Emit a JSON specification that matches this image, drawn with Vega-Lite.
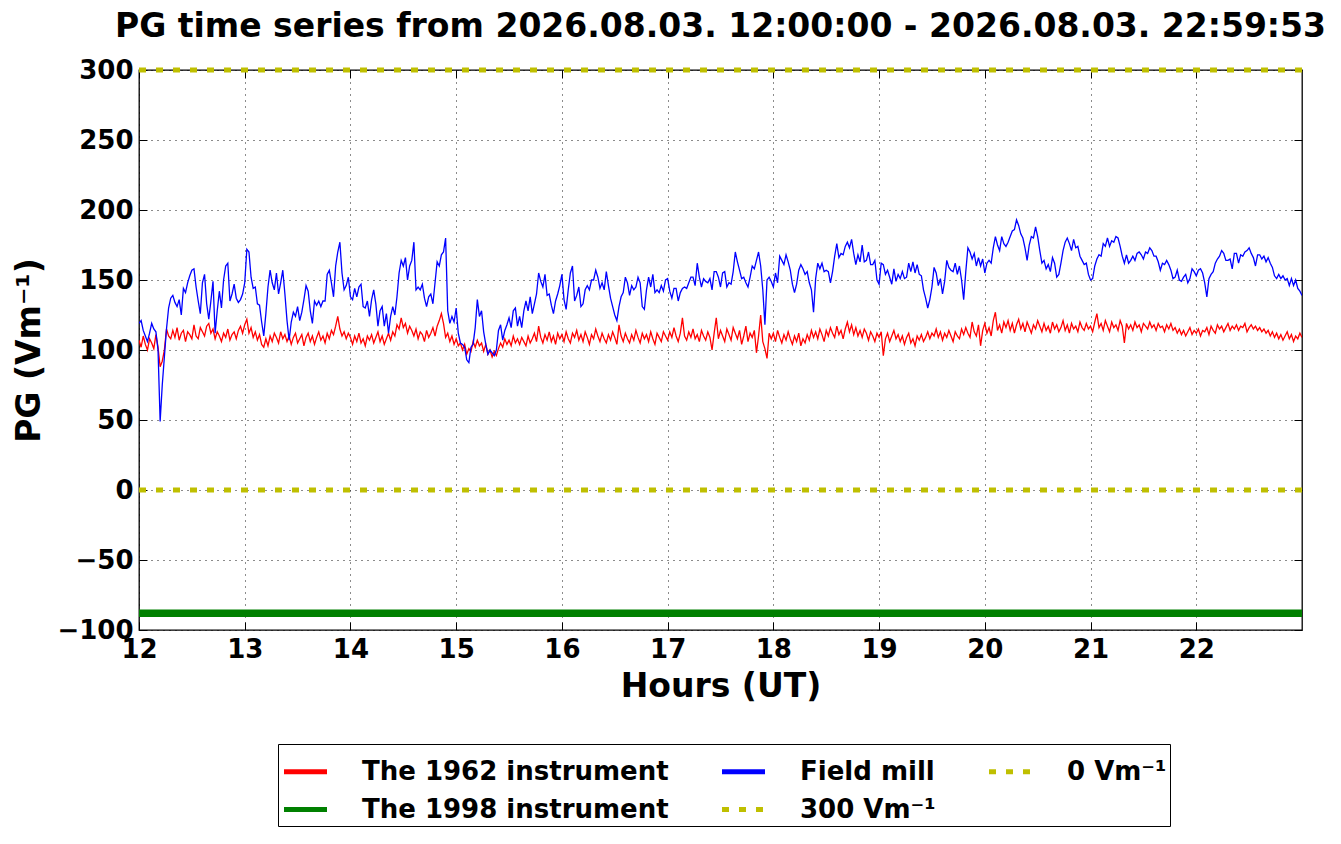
{
  "$schema": "https://vega.github.io/schema/vega-lite/v6.json",
  "width": 1163,
  "height": 560,
  "autosize": {"type": "none"},
  "padding": {"left": 139, "top": 70, "right": 39, "bottom": 214},
  "background": "white",
  "title": {"text": "PG time series from 2026.08.03. 12:00:00 - 2026.08.03. 22:59:53", "fontSize": 33, "font": "DejaVu Sans", "fontWeight": "bold", "color": "#000", "anchor": "middle", "offset": 13},
  "data": {"values": [
    {"h":12.00,"r":107,"b":119},{"h":12.02,"r":102,"b":121},{"h":12.04,"r":110,"b":114},{"h":12.06,"r":104,"b":110},{"h":12.08,"r":100,"b":106},{"h":12.10,"r":108,"b":112},{"h":12.12,"r":105,"b":119},{"h":12.14,"r":101,"b":115},{"h":12.16,"r":111,"b":113},{"h":12.18,"r":102,"b":100},
    {"h":12.20,"r":88,"b":49},{"h":12.22,"r":92,"b":75},{"h":12.24,"r":100,"b":95},{"h":12.26,"r":115,"b":115},{"h":12.28,"r":110,"b":130},{"h":12.30,"r":108,"b":137},{"h":12.32,"r":114,"b":139},{"h":12.34,"r":109,"b":134},{"h":12.36,"r":116,"b":131},{"h":12.38,"r":107,"b":136},
    {"h":12.40,"r":112,"b":125},{"h":12.42,"r":114,"b":144},{"h":12.44,"r":106,"b":141},{"h":12.46,"r":113,"b":148},{"h":12.48,"r":111,"b":153},{"h":12.50,"r":108,"b":157},{"h":12.52,"r":118,"b":158},{"h":12.54,"r":110,"b":145},{"h":12.56,"r":108,"b":135},{"h":12.58,"r":116,"b":126},
    {"h":12.60,"r":113,"b":148},{"h":12.62,"r":110,"b":154},{"h":12.64,"r":117,"b":133},{"h":12.66,"r":119,"b":122},{"h":12.68,"r":112,"b":135},{"h":12.70,"r":115,"b":149},{"h":12.72,"r":108,"b":112},{"h":12.74,"r":113,"b":128},{"h":12.76,"r":110,"b":142},{"h":12.78,"r":106,"b":130},
    {"h":12.80,"r":112,"b":150},{"h":12.82,"r":109,"b":160},{"h":12.84,"r":115,"b":162},{"h":12.86,"r":107,"b":135},{"h":12.88,"r":111,"b":140},{"h":12.90,"r":113,"b":147},{"h":12.92,"r":108,"b":137},{"h":12.94,"r":114,"b":134},{"h":12.96,"r":117,"b":136},{"h":12.98,"r":112,"b":140},
    {"h":13.00,"r":118,"b":148},{"h":13.02,"r":122,"b":172},{"h":13.04,"r":112,"b":170},{"h":13.06,"r":116,"b":152},{"h":13.08,"r":109,"b":144},{"h":13.10,"r":113,"b":145},{"h":13.12,"r":107,"b":133},{"h":13.14,"r":111,"b":132},{"h":13.16,"r":104,"b":120},{"h":13.18,"r":102,"b":110},
    {"h":13.20,"r":108,"b":126},{"h":13.22,"r":103,"b":145},{"h":13.24,"r":110,"b":157},{"h":13.26,"r":106,"b":148},{"h":13.28,"r":112,"b":143},{"h":13.30,"r":109,"b":155},{"h":13.32,"r":105,"b":140},{"h":13.34,"r":113,"b":148},{"h":13.36,"r":108,"b":157},{"h":13.38,"r":111,"b":140},
    {"h":13.40,"r":106,"b":121},{"h":13.42,"r":110,"b":107},{"h":13.44,"r":104,"b":120},{"h":13.46,"r":109,"b":127},{"h":13.48,"r":112,"b":124},{"h":13.50,"r":105,"b":131},{"h":13.52,"r":108,"b":121},{"h":13.54,"r":111,"b":127},{"h":13.56,"r":103,"b":136},{"h":13.58,"r":109,"b":146},
    {"h":13.60,"r":112,"b":142},{"h":13.62,"r":106,"b":128},{"h":13.64,"r":110,"b":119},{"h":13.66,"r":104,"b":135},{"h":13.68,"r":109,"b":132},{"h":13.70,"r":113,"b":135},{"h":13.72,"r":107,"b":131},{"h":13.74,"r":110,"b":135},{"h":13.76,"r":105,"b":135},{"h":13.78,"r":112,"b":154},
    {"h":13.80,"r":108,"b":157},{"h":13.82,"r":114,"b":148},{"h":13.84,"r":111,"b":138},{"h":13.86,"r":117,"b":160},{"h":13.88,"r":124,"b":170},{"h":13.90,"r":115,"b":177},{"h":13.92,"r":110,"b":155},{"h":13.94,"r":113,"b":143},{"h":13.96,"r":108,"b":146},{"h":13.98,"r":112,"b":152},
    {"h":14.00,"r":109,"b":138},{"h":14.02,"r":104,"b":136},{"h":14.04,"r":110,"b":144},{"h":14.06,"r":106,"b":138},{"h":14.08,"r":112,"b":145},{"h":14.10,"r":105,"b":147},{"h":14.12,"r":108,"b":131},{"h":14.14,"r":103,"b":130},{"h":14.16,"r":110,"b":135},{"h":14.18,"r":107,"b":124},
    {"h":14.20,"r":111,"b":136},{"h":14.22,"r":105,"b":143},{"h":14.24,"r":109,"b":133},{"h":14.26,"r":113,"b":117},{"h":14.28,"r":106,"b":128},{"h":14.30,"r":110,"b":131},{"h":14.32,"r":104,"b":117},{"h":14.34,"r":108,"b":126},{"h":14.36,"r":112,"b":112},{"h":14.38,"r":107,"b":124},
    {"h":14.40,"r":113,"b":131},{"h":14.42,"r":110,"b":125},{"h":14.44,"r":118,"b":138},{"h":14.46,"r":115,"b":155},{"h":14.48,"r":123,"b":164},{"h":14.50,"r":116,"b":160},{"h":14.52,"r":119,"b":166},{"h":14.54,"r":112,"b":150},{"h":14.56,"r":117,"b":160},{"h":14.58,"r":114,"b":164},
    {"h":14.60,"r":110,"b":177},{"h":14.62,"r":115,"b":143},{"h":14.64,"r":108,"b":145},{"h":14.66,"r":113,"b":143},{"h":14.68,"r":111,"b":147},{"h":14.70,"r":106,"b":137},{"h":14.72,"r":114,"b":131},{"h":14.74,"r":109,"b":138},{"h":14.76,"r":112,"b":140},{"h":14.78,"r":116,"b":133},
    {"h":14.80,"r":110,"b":148},{"h":14.82,"r":117,"b":163},{"h":14.84,"r":121,"b":160},{"h":14.86,"r":126,"b":168},{"h":14.88,"r":119,"b":170},{"h":14.90,"r":109,"b":180},{"h":14.92,"r":112,"b":128},{"h":14.94,"r":106,"b":119},{"h":14.96,"r":110,"b":124},{"h":14.98,"r":104,"b":120},
    {"h":15.00,"r":108,"b":130},{"h":15.02,"r":103,"b":112},{"h":15.04,"r":105,"b":105},{"h":15.06,"r":100,"b":104},{"h":15.08,"r":104,"b":102},{"h":15.10,"r":97,"b":93},{"h":15.12,"r":101,"b":91},{"h":15.14,"r":99,"b":102},{"h":15.16,"r":106,"b":104},{"h":15.18,"r":102,"b":116},
    {"h":15.20,"r":107,"b":136},{"h":15.22,"r":103,"b":124},{"h":15.24,"r":105,"b":128},{"h":15.26,"r":99,"b":113},{"h":15.28,"r":104,"b":104},{"h":15.30,"r":97,"b":97},{"h":15.32,"r":100,"b":100},{"h":15.34,"r":95,"b":98},{"h":15.36,"r":99,"b":96},{"h":15.38,"r":96,"b":100},
    {"h":15.40,"r":101,"b":114},{"h":15.42,"r":105,"b":118},{"h":15.44,"r":102,"b":107},{"h":15.46,"r":108,"b":114},{"h":15.48,"r":104,"b":118},{"h":15.50,"r":107,"b":123},{"h":15.52,"r":103,"b":116},{"h":15.54,"r":110,"b":128},{"h":15.56,"r":105,"b":130},{"h":15.58,"r":108,"b":117},
    {"h":15.60,"r":104,"b":124},{"h":15.62,"r":109,"b":116},{"h":15.64,"r":106,"b":128},{"h":15.66,"r":103,"b":135},{"h":15.68,"r":110,"b":128},{"h":15.70,"r":105,"b":138},{"h":15.72,"r":108,"b":126},{"h":15.74,"r":112,"b":133},{"h":15.76,"r":106,"b":140},{"h":15.78,"r":117,"b":155},
    {"h":15.80,"r":109,"b":149},{"h":15.82,"r":105,"b":145},{"h":15.84,"r":111,"b":154},{"h":15.86,"r":107,"b":139},{"h":15.88,"r":113,"b":140},{"h":15.90,"r":106,"b":132},{"h":15.92,"r":110,"b":126},{"h":15.94,"r":104,"b":135},{"h":15.96,"r":112,"b":140},{"h":15.98,"r":108,"b":146},
    {"h":16.00,"r":111,"b":154},{"h":16.02,"r":106,"b":136},{"h":16.04,"r":113,"b":129},{"h":16.06,"r":108,"b":143},{"h":16.08,"r":105,"b":155},{"h":16.10,"r":112,"b":160},{"h":16.12,"r":109,"b":135},{"h":16.14,"r":114,"b":139},{"h":16.16,"r":107,"b":145},{"h":16.18,"r":111,"b":131},
    {"h":16.20,"r":106,"b":133},{"h":16.22,"r":113,"b":143},{"h":16.24,"r":109,"b":146},{"h":16.26,"r":104,"b":143},{"h":16.28,"r":111,"b":150},{"h":16.30,"r":108,"b":150},{"h":16.32,"r":115,"b":157},{"h":16.34,"r":110,"b":152},{"h":16.36,"r":106,"b":144},{"h":16.38,"r":112,"b":148},
    {"h":16.40,"r":108,"b":143},{"h":16.42,"r":105,"b":156},{"h":16.44,"r":111,"b":146},{"h":16.46,"r":107,"b":137},{"h":16.48,"r":113,"b":131},{"h":16.50,"r":109,"b":125},{"h":16.52,"r":104,"b":121},{"h":16.54,"r":118,"b":131},{"h":16.56,"r":110,"b":138},{"h":16.58,"r":106,"b":141},
    {"h":16.60,"r":112,"b":152},{"h":16.62,"r":108,"b":148},{"h":16.64,"r":105,"b":139},{"h":16.66,"r":111,"b":146},{"h":16.68,"r":107,"b":143},{"h":16.70,"r":114,"b":145},{"h":16.72,"r":109,"b":152},{"h":16.74,"r":105,"b":148},{"h":16.76,"r":112,"b":131},{"h":16.78,"r":108,"b":129},
    {"h":16.80,"r":111,"b":143},{"h":16.82,"r":106,"b":152},{"h":16.84,"r":113,"b":145},{"h":16.86,"r":108,"b":154},{"h":16.88,"r":104,"b":141},{"h":16.90,"r":112,"b":143},{"h":16.92,"r":109,"b":141},{"h":16.94,"r":106,"b":146},{"h":16.96,"r":113,"b":142},{"h":16.98,"r":110,"b":150},
    {"h":17.00,"r":107,"b":151},{"h":17.02,"r":113,"b":142},{"h":17.04,"r":109,"b":137},{"h":17.06,"r":116,"b":144},{"h":17.08,"r":110,"b":144},{"h":17.10,"r":106,"b":135},{"h":17.12,"r":112,"b":141},{"h":17.14,"r":123,"b":144},{"h":17.16,"r":110,"b":145},{"h":17.18,"r":107,"b":144},
    {"h":17.20,"r":113,"b":148},{"h":17.22,"r":109,"b":152},{"h":17.24,"r":115,"b":152},{"h":17.26,"r":108,"b":146},{"h":17.28,"r":111,"b":162},{"h":17.30,"r":106,"b":152},{"h":17.32,"r":114,"b":145},{"h":17.34,"r":110,"b":151},{"h":17.36,"r":107,"b":149},{"h":17.38,"r":113,"b":148},
    {"h":17.40,"r":109,"b":151},{"h":17.42,"r":100,"b":143},{"h":17.44,"r":112,"b":156},{"h":17.46,"r":123,"b":156},{"h":17.48,"r":108,"b":152},{"h":17.50,"r":114,"b":145},{"h":17.52,"r":110,"b":155},{"h":17.54,"r":106,"b":156},{"h":17.56,"r":115,"b":145},{"h":17.58,"r":111,"b":148},
    {"h":17.60,"r":107,"b":147},{"h":17.62,"r":116,"b":156},{"h":17.64,"r":112,"b":170},{"h":17.66,"r":108,"b":163},{"h":17.68,"r":114,"b":157},{"h":17.70,"r":104,"b":151},{"h":17.72,"r":110,"b":152},{"h":17.74,"r":117,"b":148},{"h":17.76,"r":106,"b":145},{"h":17.78,"r":112,"b":152},
    {"h":17.80,"r":109,"b":160},{"h":17.82,"r":114,"b":158},{"h":17.84,"r":98,"b":164},{"h":17.86,"r":110,"b":170},{"h":17.88,"r":125,"b":160},{"h":17.90,"r":106,"b":143},{"h":17.92,"r":101,"b":118},{"h":17.94,"r":94,"b":150},{"h":17.96,"r":112,"b":152},{"h":17.98,"r":108,"b":149},
    {"h":18.00,"r":112,"b":145},{"h":18.02,"r":106,"b":155},{"h":18.04,"r":114,"b":148},{"h":18.06,"r":109,"b":167},{"h":18.08,"r":105,"b":164},{"h":18.10,"r":111,"b":161},{"h":18.12,"r":107,"b":168},{"h":18.14,"r":113,"b":163},{"h":18.16,"r":108,"b":157},{"h":18.18,"r":104,"b":147},
    {"h":18.20,"r":110,"b":141},{"h":18.22,"r":106,"b":147},{"h":18.24,"r":112,"b":157},{"h":18.26,"r":103,"b":161},{"h":18.28,"r":108,"b":158},{"h":18.30,"r":105,"b":154},{"h":18.32,"r":111,"b":156},{"h":18.34,"r":107,"b":148},{"h":18.36,"r":114,"b":143},{"h":18.38,"r":109,"b":127},
    {"h":18.40,"r":113,"b":151},{"h":18.42,"r":108,"b":162},{"h":18.44,"r":115,"b":158},{"h":18.46,"r":111,"b":162},{"h":18.48,"r":106,"b":156},{"h":18.50,"r":114,"b":157},{"h":18.52,"r":110,"b":156},{"h":18.54,"r":116,"b":148},{"h":18.56,"r":112,"b":156},{"h":18.58,"r":109,"b":167},
    {"h":18.60,"r":117,"b":176},{"h":18.62,"r":111,"b":166},{"h":18.64,"r":114,"b":169},{"h":18.66,"r":108,"b":168},{"h":18.68,"r":115,"b":174},{"h":18.70,"r":120,"b":177},{"h":18.72,"r":113,"b":173},{"h":18.74,"r":118,"b":179},{"h":18.76,"r":111,"b":169},{"h":18.78,"r":116,"b":161},
    {"h":18.80,"r":110,"b":168},{"h":18.82,"r":114,"b":163},{"h":18.84,"r":109,"b":175},{"h":18.86,"r":115,"b":163},{"h":18.88,"r":112,"b":164},{"h":18.90,"r":107,"b":170},{"h":18.92,"r":113,"b":161},{"h":18.94,"r":110,"b":161},{"h":18.96,"r":106,"b":164},{"h":18.98,"r":112,"b":150},
    {"h":19.00,"r":109,"b":147},{"h":19.02,"r":113,"b":162},{"h":19.04,"r":96,"b":161},{"h":19.06,"r":108,"b":154},{"h":19.08,"r":112,"b":157},{"h":19.10,"r":106,"b":152},{"h":19.12,"r":110,"b":147},{"h":19.14,"r":114,"b":158},{"h":19.16,"r":108,"b":149},{"h":19.18,"r":111,"b":154},
    {"h":19.20,"r":106,"b":151},{"h":19.22,"r":110,"b":156},{"h":19.24,"r":104,"b":151},{"h":19.26,"r":109,"b":152},{"h":19.28,"r":112,"b":162},{"h":19.30,"r":105,"b":156},{"h":19.32,"r":108,"b":163},{"h":19.34,"r":103,"b":155},{"h":19.36,"r":110,"b":161},{"h":19.38,"r":107,"b":154},
    {"h":19.40,"r":111,"b":153},{"h":19.42,"r":106,"b":143},{"h":19.44,"r":109,"b":137},{"h":19.46,"r":113,"b":130},{"h":19.48,"r":108,"b":136},{"h":19.50,"r":112,"b":145},{"h":19.52,"r":110,"b":159},{"h":19.54,"r":115,"b":155},{"h":19.56,"r":109,"b":146},{"h":19.58,"r":113,"b":151},
    {"h":19.60,"r":107,"b":140},{"h":19.62,"r":112,"b":149},{"h":19.64,"r":109,"b":164},{"h":19.66,"r":114,"b":159},{"h":19.68,"r":110,"b":157},{"h":19.70,"r":106,"b":156},{"h":19.72,"r":113,"b":162},{"h":19.74,"r":110,"b":154},{"h":19.76,"r":108,"b":160},{"h":19.78,"r":115,"b":150},
    {"h":19.80,"r":111,"b":136},{"h":19.82,"r":116,"b":156},{"h":19.84,"r":112,"b":173},{"h":19.86,"r":109,"b":170},{"h":19.88,"r":120,"b":165},{"h":19.90,"r":113,"b":169},{"h":19.92,"r":110,"b":160},{"h":19.94,"r":118,"b":166},{"h":19.96,"r":103,"b":160},{"h":19.98,"r":114,"b":165},
    {"h":20.00,"r":119,"b":155},{"h":20.02,"r":112,"b":162},{"h":20.04,"r":116,"b":164},{"h":20.06,"r":110,"b":162},{"h":20.08,"r":121,"b":173},{"h":20.10,"r":127,"b":181},{"h":20.12,"r":114,"b":175},{"h":20.14,"r":118,"b":171},{"h":20.16,"r":112,"b":181},{"h":20.18,"r":120,"b":176},
    {"h":20.20,"r":116,"b":174},{"h":20.22,"r":121,"b":177},{"h":20.24,"r":114,"b":181},{"h":20.26,"r":119,"b":185},{"h":20.28,"r":112,"b":186},{"h":20.30,"r":118,"b":193},{"h":20.32,"r":122,"b":189},{"h":20.34,"r":115,"b":183},{"h":20.36,"r":119,"b":180},{"h":20.38,"r":113,"b":173},
    {"h":20.40,"r":120,"b":164},{"h":20.42,"r":116,"b":175},{"h":20.44,"r":112,"b":181},{"h":20.46,"r":118,"b":180},{"h":20.48,"r":115,"b":188},{"h":20.50,"r":121,"b":181},{"h":20.52,"r":117,"b":171},{"h":20.54,"r":113,"b":162},{"h":20.56,"r":119,"b":164},{"h":20.58,"r":114,"b":158},
    {"h":20.60,"r":117,"b":161},{"h":20.62,"r":112,"b":156},{"h":20.64,"r":120,"b":166},{"h":20.66,"r":115,"b":162},{"h":20.68,"r":118,"b":152},{"h":20.70,"r":113,"b":154},{"h":20.72,"r":116,"b":162},{"h":20.74,"r":121,"b":171},{"h":20.76,"r":114,"b":177},{"h":20.78,"r":118,"b":180},
    {"h":20.80,"r":112,"b":176},{"h":20.82,"r":119,"b":171},{"h":20.84,"r":115,"b":179},{"h":20.86,"r":117,"b":173},{"h":20.88,"r":113,"b":174},{"h":20.90,"r":120,"b":167},{"h":20.92,"r":116,"b":164},{"h":20.94,"r":114,"b":161},{"h":20.96,"r":119,"b":162},{"h":20.98,"r":115,"b":154},
    {"h":21.00,"r":117,"b":150},{"h":21.02,"r":113,"b":151},{"h":21.04,"r":120,"b":160},{"h":21.06,"r":126,"b":165},{"h":21.08,"r":116,"b":168},{"h":21.10,"r":119,"b":167},{"h":21.12,"r":114,"b":176},{"h":21.14,"r":121,"b":174},{"h":21.16,"r":117,"b":180},{"h":21.18,"r":113,"b":174},
    {"h":21.20,"r":120,"b":178},{"h":21.22,"r":116,"b":177},{"h":21.24,"r":118,"b":181},{"h":21.26,"r":114,"b":180},{"h":21.28,"r":121,"b":174},{"h":21.30,"r":117,"b":167},{"h":21.32,"r":105,"b":162},{"h":21.34,"r":119,"b":168},{"h":21.36,"r":115,"b":162},{"h":21.38,"r":118,"b":164},
    {"h":21.40,"r":114,"b":167},{"h":21.42,"r":120,"b":164},{"h":21.44,"r":116,"b":169},{"h":21.46,"r":118,"b":170},{"h":21.48,"r":113,"b":168},{"h":21.50,"r":119,"b":165},{"h":21.52,"r":117,"b":170},{"h":21.54,"r":115,"b":169},{"h":21.56,"r":120,"b":173},{"h":21.58,"r":116,"b":171},
    {"h":21.60,"r":118,"b":167},{"h":21.62,"r":114,"b":167},{"h":21.64,"r":119,"b":163},{"h":21.66,"r":116,"b":157},{"h":21.68,"r":117,"b":162},{"h":21.70,"r":113,"b":161},{"h":21.72,"r":118,"b":164},{"h":21.74,"r":115,"b":161},{"h":21.76,"r":119,"b":157},{"h":21.78,"r":114,"b":151},
    {"h":21.80,"r":116,"b":152},{"h":21.82,"r":112,"b":157},{"h":21.84,"r":115,"b":150},{"h":21.86,"r":111,"b":149},{"h":21.88,"r":114,"b":152},{"h":21.90,"r":110,"b":154},{"h":21.92,"r":113,"b":148},{"h":21.94,"r":116,"b":151},{"h":21.96,"r":111,"b":158},{"h":21.98,"r":114,"b":156},
    {"h":22.00,"r":112,"b":153},{"h":22.02,"r":115,"b":157},{"h":22.04,"r":110,"b":158},{"h":22.06,"r":114,"b":155},{"h":22.08,"r":113,"b":148},{"h":22.10,"r":116,"b":138},{"h":22.12,"r":111,"b":151},{"h":22.14,"r":117,"b":154},{"h":22.16,"r":114,"b":156},{"h":22.18,"r":112,"b":162},
    {"h":22.20,"r":118,"b":165},{"h":22.22,"r":115,"b":167},{"h":22.24,"r":117,"b":171},{"h":22.26,"r":113,"b":169},{"h":22.28,"r":116,"b":164},{"h":22.30,"r":119,"b":164},{"h":22.32,"r":114,"b":165},{"h":22.34,"r":117,"b":158},{"h":22.36,"r":115,"b":169},{"h":22.38,"r":118,"b":169},
    {"h":22.40,"r":114,"b":162},{"h":22.42,"r":117,"b":168},{"h":22.44,"r":116,"b":167},{"h":22.46,"r":119,"b":170},{"h":22.48,"r":113,"b":171},{"h":22.50,"r":116,"b":173},{"h":22.52,"r":118,"b":169},{"h":22.54,"r":115,"b":166},{"h":22.56,"r":117,"b":160},{"h":22.58,"r":114,"b":168},
    {"h":22.60,"r":116,"b":168},{"h":22.62,"r":113,"b":165},{"h":22.64,"r":115,"b":167},{"h":22.66,"r":112,"b":163},{"h":22.68,"r":114,"b":166},{"h":22.70,"r":110,"b":162},{"h":22.72,"r":113,"b":159},{"h":22.74,"r":109,"b":153},{"h":22.76,"r":112,"b":151},{"h":22.78,"r":108,"b":154},
    {"h":22.80,"r":111,"b":151},{"h":22.82,"r":107,"b":153},{"h":22.84,"r":110,"b":150},{"h":22.86,"r":113,"b":151},{"h":22.88,"r":108,"b":146},{"h":22.90,"r":111,"b":151},{"h":22.92,"r":106,"b":146},{"h":22.94,"r":110,"b":150},{"h":22.96,"r":108,"b":144},{"h":22.98,"r":112,"b":142},
    {"h":23.00,"r":109,"b":139}
  ]},
  "layer": [
    {
      "mark": {"type": "line", "strokeWidth": 1.3, "clip": true},
      "encoding": {
        "x": {"field": "h", "type": "quantitative", "scale": {"domain": [12, 23], "nice": false, "zero": false},
          "axis": {"values": [12, 13, 14, 15, 16, 17, 18, 19, 20, 21, 22], "title": "Hours (UT)", "grid": true, "titlePadding": 8}},
        "y": {"field": "r", "type": "quantitative", "scale": {"domain": [-100, 300], "nice": false, "zero": false},
          "axis": {"values": [-100, -50, 0, 50, 100, 150, 200, 250, 300], "title": "PG (Vm⁻¹)", "grid": true, "titlePadding": 10}},
        "color": {"datum": "r", "type": "nominal",
          "scale": {"domain": ["r", "g", "b", "t", "z"], "range": ["#ff0000", "#008000", "#0000ff", "#bfbf00", "#bfbf00"]},
          "legend": {
            "orient": "none", "legendX": 139, "legendY": 674, "columns": 3, "title": null,
            "labelExpr": "datum.label === 'r' ? 'The 1962 instrument' : datum.label === 'b' ? 'Field mill' : datum.label === 'g' ? 'The 1998 instrument' : datum.label === 't' ? '300 Vm⁻¹' : '0 Vm⁻¹'",
            "encode": {"symbols": {"update": {"strokeDash": {"signal": "datum.value === 'z' || datum.value === 't' ? [7, 10] : [1, 0]"}}}}
          }}
      }
    },
    {
      "mark": {"type": "rule", "strokeWidth": 7.5},
      "data": {"values": [{}]},
      "encoding": {"y": {"datum": -88, "type": "quantitative", "axis": null}, "color": {"datum": "g", "type": "nominal"}}
    },
    {
      "mark": {"type": "line", "strokeWidth": 1.3, "clip": true},
      "encoding": {
        "x": {"field": "h", "type": "quantitative",
          "axis": {"orient": "top", "values": [12, 13, 14, 15, 16, 17, 18, 19, 20, 21, 22], "labels": false, "title": null, "grid": false}},
        "y": {"field": "b", "type": "quantitative",
          "axis": {"orient": "right", "values": [-100, -50, 0, 50, 100, 150, 200, 250, 300], "labels": false, "title": null, "grid": false}},
        "color": {"datum": "b", "type": "nominal"}
      }
    },
    {
      "mark": {"type": "rule", "strokeWidth": 5, "strokeDash": [7, 10]},
      "data": {"values": [{}]},
      "encoding": {"y": {"datum": 300, "type": "quantitative", "axis": null}, "color": {"datum": "t", "type": "nominal"}}
    },
    {
      "mark": {"type": "rule", "strokeWidth": 5, "strokeDash": [7, 10]},
      "data": {"values": [{}]},
      "encoding": {"y": {"datum": 0, "type": "quantitative", "axis": null}, "color": {"datum": "z", "type": "nominal"}}
    }
  ],
  "resolve": {"axis": {"x": "independent", "y": "independent"}},
  "config": {
    "font": "DejaVu Sans",
    "view": {"stroke": "#000", "strokeWidth": 1.3},
    "axis": {
      "domain": false,
      "gridColor": "#000", "gridDash": [1, 5], "gridWidth": 1, "gridOpacity": 0.9,
      "tickColor": "#000", "tickSize": -8, "tickWidth": 1,
      "labelFont": "DejaVu Sans", "labelFontSize": 26, "labelFontWeight": "bold", "labelColor": "#000",
      "labelPadding": 14, "labelFlush": false, "labelOverlap": false,
      "titleFont": "DejaVu Sans", "titleFontSize": 33, "titleFontWeight": "bold", "titleColor": "#000"
    },
    "legend": {
      "symbolType": "stroke", "symbolStrokeWidth": 5, "symbolSize": 1850,
      "labelFont": "DejaVu Sans", "labelFontSize": 26, "labelFontWeight": "bold", "labelColor": "#000",
      "labelOffset": 32, "columnPadding": 42, "rowPadding": 0, "padding": 3, "gridAlign": "each",
      "strokeColor": "#000", "fillColor": "#fff", "cornerRadius": 0, "labelLimit": 400
    }
  }
}
